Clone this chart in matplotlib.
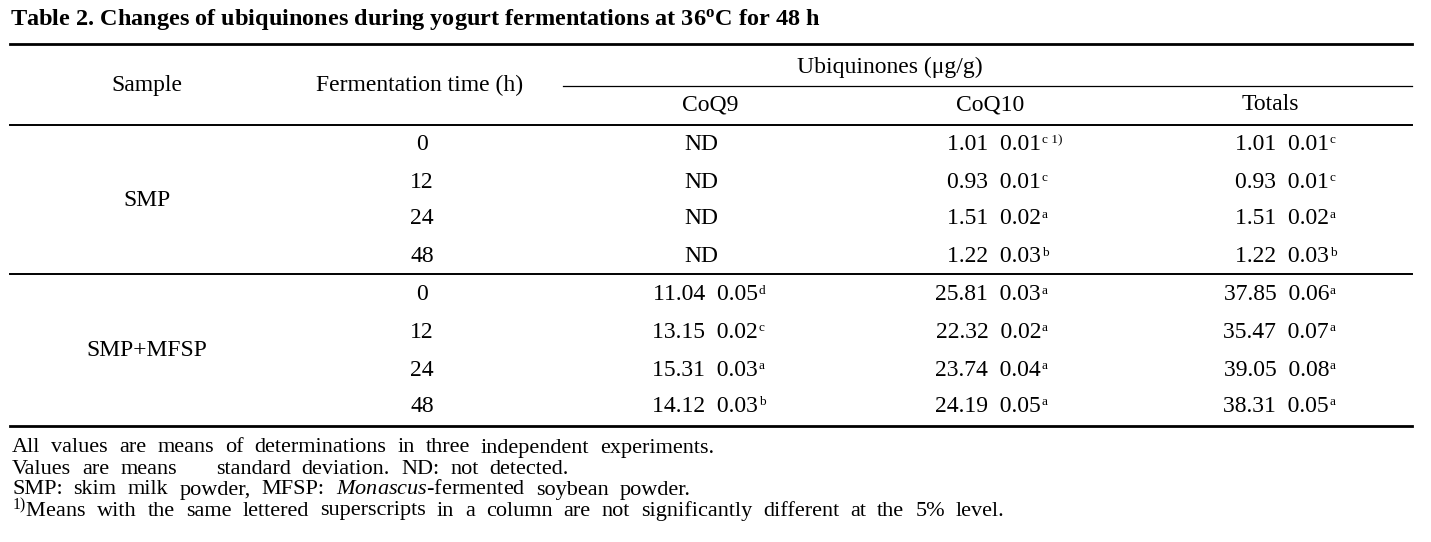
import matplotlib
matplotlib.use("Agg")
import matplotlib.pyplot as plt

plt.rcParams['font.family'] = ['Liberation Serif', 'DejaVu Serif']
plt.rcParams['mathtext.fontset'] = 'custom'
plt.rcParams['mathtext.rm'] = 'Liberation Serif'
plt.rcParams['mathtext.it'] = 'Liberation Serif:italic'
plt.rcParams['mathtext.bf'] = 'Liberation Serif:bold'

title = "Table 2. Changes of ubiquinones during yogurt fermentations at 36$^{\\mathbf{o}}$C for 48 h"
samples = ["SMP", "SMP+MFSP"]
times = ["0", "12", "24", "48"]
col_names = ["CoQ9", "CoQ10", "Totals"]

# cells: (value text, superscript)
coq9 = [("ND", ""), ("ND", ""), ("ND", ""), ("ND", ""),
        ("11.04  0.05", "d"), ("13.15  0.02", "c"), ("15.31  0.03", "a"), ("14.12  0.03", "b")]
coq10 = [("1.01  0.01", "c 1)"), ("0.93  0.01", "c"), ("1.51  0.02", "a"), ("1.22  0.03", "b"),
         ("25.81  0.03", "a"), ("22.32  0.02", "a"), ("23.74  0.04", "a"), ("24.19  0.05", "a")]
totals = [("1.01  0.01", "c"), ("0.93  0.01", "c"), ("1.51  0.02", "a"), ("1.22  0.03", "b"),
          ("37.85  0.06", "a"), ("35.47  0.07", "a"), ("39.05  0.08", "a"), ("38.31  0.05", "a")]

# footnote words ("" marks the blank left by the missing plus-minus sign)
notes = [
    "All values are means of determinations in three independent experiments.".split(),
    ["Values", "are", "means", "", "standard", "deviation.", "ND:", "not", "detected."],
    ["SMP:", "skim", "milk", "powder,", "MFSP:", "$\\mathit{Monascus}$-fermented", "soybean", "powder."],
    ["$^{1)}$Means"] + "with the same lettered superscripts in a column are not significantly different at the 5% level.".split(),
]

fig = plt.figure(figsize=(14.31, 5.42), dpi=100)
ax = fig.add_axes([0, 0, 1, 1])
ax.set_xlim(0, 1431)
ax.set_ylim(542, 0)
ax.axis('off')
renderer = fig.canvas.get_renderer()

fs = 17
ax.text(10, 20, title, fontsize=17.5, fontweight='bold', ha='left', va='center')

# rules
ax.plot([10, 1412], [44, 44], color='black', lw=2.0)
ax.plot([563, 1412], [86, 86], color='black', lw=0.9)
ax.plot([10, 1412], [125, 125], color='black', lw=1.4)
ax.plot([10, 1412], [274, 274], color='black', lw=1.4)
ax.plot([10, 1412], [426, 426], color='black', lw=2.0)

# header
ax.text(147, 85, "Sample", fontsize=fs, ha='center', va='center')
ax.text(420, 85, "Fermentation time (h)", fontsize=fs, ha='center', va='center')
ax.text(890, 67, "Ubiquinones (μg/g)", fontsize=fs, ha='center', va='center')
col_x = [710, 990, 1270]
for x, name in zip(col_x, col_names):
    ax.text(x, 105, name, fontsize=fs, ha='center', va='center')

row_y = [144, 182, 219, 257, 295, 332, 370, 406]
ax.text(147, 200, samples[0], fontsize=fs, ha='center', va='center')
ax.text(147, 350, samples[1], fontsize=fs, ha='center', va='center')
for i, y in enumerate(row_y):
    ax.text(422, y, times[i % 4], fontsize=fs, ha='center', va='center')

right_x = [758, 1041, 1329]
for col, rx in zip([coq9, coq10, totals], right_x):
    for (val, sup), y in zip(col, row_y):
        if val == "ND":
            ax.text(701, y, val, fontsize=fs, ha='center', va='center')
            continue
        t = ax.text(rx, y, val, fontsize=fs, ha='right', va='center')
        ax.annotate(sup, xy=(1, 0.98), xycoords=t, xytext=(0.5, 0),
                    textcoords='offset points', fontsize=9.5, ha='left', va='top')

# footnotes, set word by word with the wide spacing of the original
note_y = [448, 469, 490, 511]
gap = 11
for y, words in zip(note_y, notes):
    x = 12
    for w in words:
        if w == "":
            x += 28
            continue
        t = ax.text(x, y, w, fontsize=16, ha='left', va='center')
        x += t.get_window_extent(renderer).width + gap

fig.savefig("out.png", dpi=100)
